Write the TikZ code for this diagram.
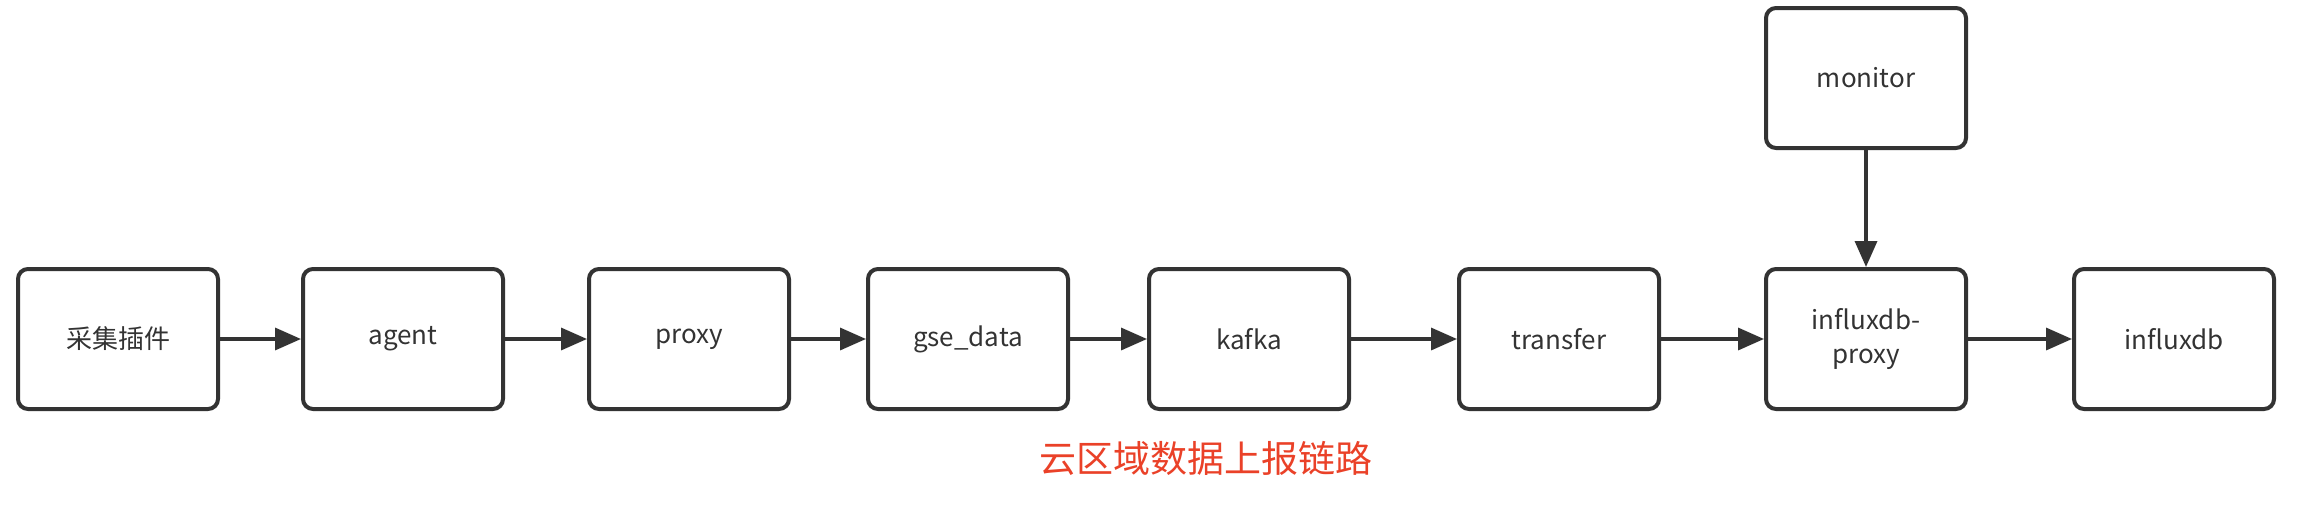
\documentclass[tikz,border=0pt]{standalone}
\usepackage{fontspec}
\setmainfont{Noto Sans CJK SC}
\usetikzlibrary{arrows.meta}
\definecolor{ln}{HTML}{333333}
\definecolor{tr}{HTML}{EA4128}
\begin{document}
\begin{tikzpicture}[x=0.5pt,y=-0.5pt,
  box/.style={draw=ln, line width=2pt, rounded corners=5pt, minimum width=100pt, minimum height=70pt, align=center, font=\fontsize{13pt}{17pt}\selectfont, text=ln, inner sep=0pt},
  flow/.style={draw=ln, line width=1.75pt, -{Triangle[length=13pt,width=11pt]}}]
\useasboundingbox (0,0) rectangle (2324,530);
\node[box] (cj) at (118,339) {采集插件};
\node[box] (agent) at (403,339) {agent};
\node[box] (proxy) at (689,339) {proxy};
\node[box] (gse) at (968,339) {gse\_data};
\node[box] (kafka) at (1249,339) {kafka};
\node[box] (transfer) at (1559,339) {transfer};
\node[box] (ipx) at (1866,339) {influxdb-\\proxy};
\node[box] (idb) at (2174,339) {influxdb};
\node[box] (monitor) at (1866,78) {monitor};
\draw[flow] (cj) -- (agent);
\draw[flow] (agent) -- (proxy);
\draw[flow] (proxy) -- (gse);
\draw[flow] (gse) -- (kafka);
\draw[flow] (kafka) -- (transfer);
\draw[flow] (transfer) -- (ipx);
\draw[flow] (ipx) -- (idb);
\draw[flow] (monitor) -- (ipx);
\node[font=\fontsize{18.5pt}{22pt}\selectfont, text=tr] (title) at (1206,458) {云区域数据上报链路};
\end{tikzpicture}
\end{document}
